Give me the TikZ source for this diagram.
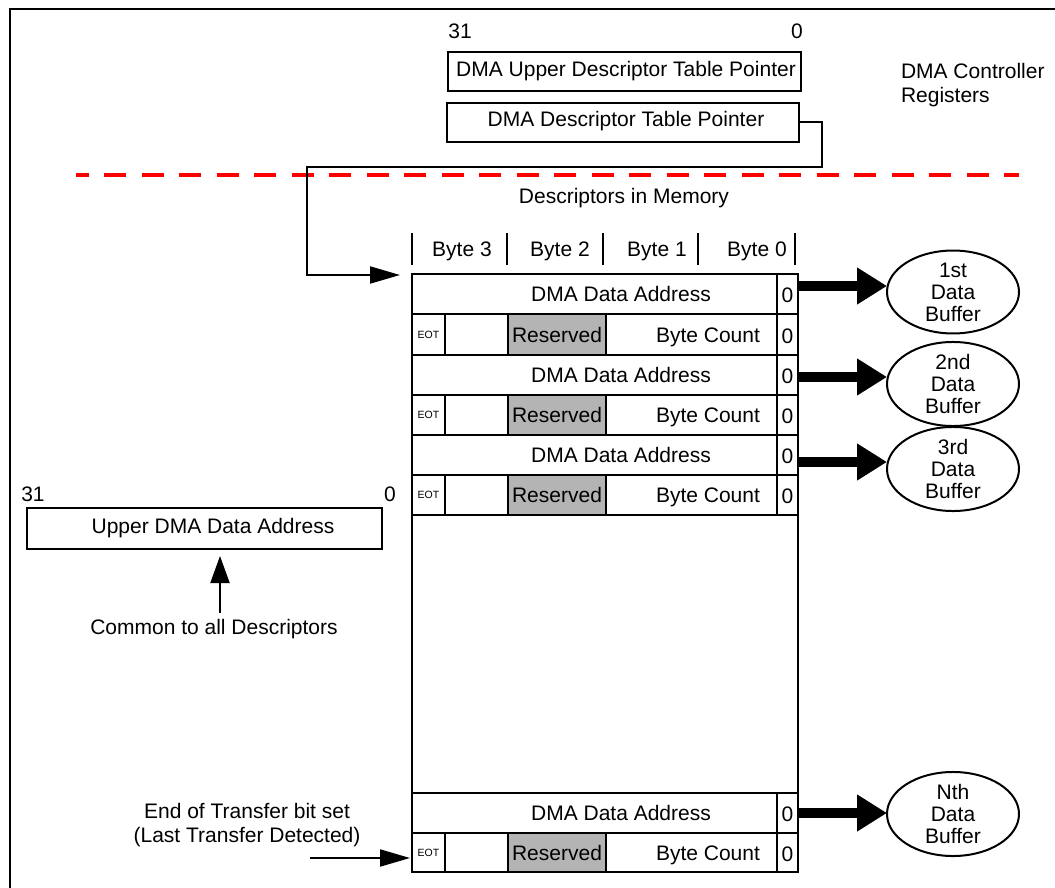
\documentclass[tikz,border=0pt]{standalone}
\usepackage{fontspec}
\setmainfont{Liberation Sans}
\usetikzlibrary{arrows.meta,shapes.geometric,calc}
\definecolor{resgray}{RGB}{180,180,180}
\definecolor{dashred}{RGB}{255,0,0}
\begin{document}
\begin{tikzpicture}[x=1pt,y=-1pt,
  every node/.style={inner sep=0pt, outer sep=0pt},
  txt/.style={font=\fontsize{21}{22}\selectfont, text height=15pt, text depth=0pt},
  smalltxt/.style={font=\fontsize{10.5}{11}\selectfont, text height=7.5pt, text depth=0pt},
  regbox/.style={draw, line width=2pt},
  ln/.style={line width=2pt, line join=miter},
  thinarrow/.style={line width=2pt, line join=miter, -{Triangle[length=30pt,width=17pt]}},
  fatarrow/.style={line width=10pt, -{Triangle[length=30pt,width=35pt]}},
  buffer/.style={draw, ellipse, line width=2pt, minimum width=132pt, minimum height=80pt,
    align=center, font=\fontsize{21}{22}\selectfont},
  sepline/.style={dashred, line width=3pt, dash pattern=on 22pt off 15.5pt, dash phase=9.5pt}
]
\useasboundingbox (0,0) rectangle (1055,888);

% frame
\draw[line width=2pt] (10,888) -- (10,9) -- (1055,9);

% controller registers
\node[txt] (t31) at (460,31) {31};
\node[txt] (t0) at (797,31) {0};
\node[regbox, minimum width=353pt, minimum height=39pt] (udtp) at (624.5,71.5) {};
\node[txt] (udtptxt) at (626,69.5) {DMA Upper Descriptor Table Pointer};
\node[regbox, minimum width=352pt, minimum height=39pt] (dtp) at (623,122.5) {};
\node[txt] (dtptxt) at (626,119) {DMA Descriptor Table Pointer};
\node[txt, anchor=west] (dcr1) at (901,71) {DMA Controller};
\node[txt, anchor=west] (dcr2) at (901,95) {Registers};

% separator
\coordinate (sepL) at (76,175);
\coordinate (sepR) at (1019,175);
\draw[sepline] (sepL) -- (sepR);

\node[txt] (dim) at (624,196) {Descriptors in Memory};

% byte header
\foreach \x in {412,507,603,698,795} \draw[ln] (\x,233) -- (\x,265);
\node[txt] (b3) at (462,249) {Byte 3};
\node[txt] (b2) at (560,249) {Byte 2};
\node[txt] (b1) at (657,249) {Byte 1};
\node[txt] (b0) at (757,249) {Byte 0};

% descriptor table
\coordinate (tabtl) at (412,274);
\foreach \a/\b/\y/\i in {274/314/286/1, 355/395/377/2, 435/475/462/3, 793/833/813/4} {
  \draw[ln] (412,\a) rectangle (798,\b);
  \draw[ln] (777,\a) -- (777,\b);
  \node[txt] at (621,{(\a+\b)/2}) {DMA Data Address};
  \node[txt] at (787.5,{(\a+\b)/2+1}) {0};
  \coordinate (out\i) at (798,\y);
}
\foreach \a/\b in {314/355, 395/435, 475/515, 833/872} {
  \fill[resgray] (508,\a) rectangle (606,\b);
  \draw[ln] (412,\a) rectangle (798,\b);
  \foreach \x in {445,508,606,777} \draw[ln] (\x,\a) -- (\x,\b);
  \node[smalltxt] at (428.5,{(\a+\b)/2}) {EOT};
  \node[txt] at (557,{(\a+\b)/2}) {Reserved};
  \node[txt] at (708,{(\a+\b)/2}) {Byte Count};
  \node[txt] at (787.5,{(\a+\b)/2+1}) {0};
}
\draw[ln] (412,515) -- (412,793);
\draw[ln] (798,515) -- (798,793);

% pointer connector
\coordinate (ptrtip) at (400,275);
\draw[thinarrow] (dtp.east) -| (822,167) -| (307,275) -- (ptrtip);

% data buffers
\node[buffer] (buf1) at (953,292) {1st\\Data\\Buffer};
\node[buffer] (buf2) at (953,384) {2nd\\Data\\Buffer};
\node[buffer] (buf3) at (953,469) {3rd\\Data\\Buffer};
\node[buffer] (buf4) at (953,814) {Nth\\Data\\Buffer};
\foreach \i in {1,2,3,4} \draw[fatarrow] (out\i) -- (out\i -| buf\i.west);

% upper DMA data address
\node[txt] (l31) at (33,494) {31};
\node[txt] (l0) at (390,494) {0};
\node[regbox, minimum width=355pt, minimum height=41pt] (uda) at (204.5,528.5) {};
\node[txt] (udatxt) at (213,526) {Upper DMA Data Address};
\node[txt] (common) at (214,627) {Common to all Descriptors};
\coordinate (commonsrc) at (220,613);
\coordinate (udatip) at (220,556);
\draw[line width=2pt, -{Triangle[length=27pt,width=19pt]}] (commonsrc) -- (udatip);

% end of transfer
\node[txt] (eot1) at (247,811) {End of Transfer bit set};
\node[txt] (eot2) at (247,835) {(Last Transfer Detected)};
\coordinate (eotsrc) at (310,858);
\coordinate (eottip) at (410,858);
\draw[thinarrow] (eotsrc) -- (eottip);
\end{tikzpicture}
\end{document}
